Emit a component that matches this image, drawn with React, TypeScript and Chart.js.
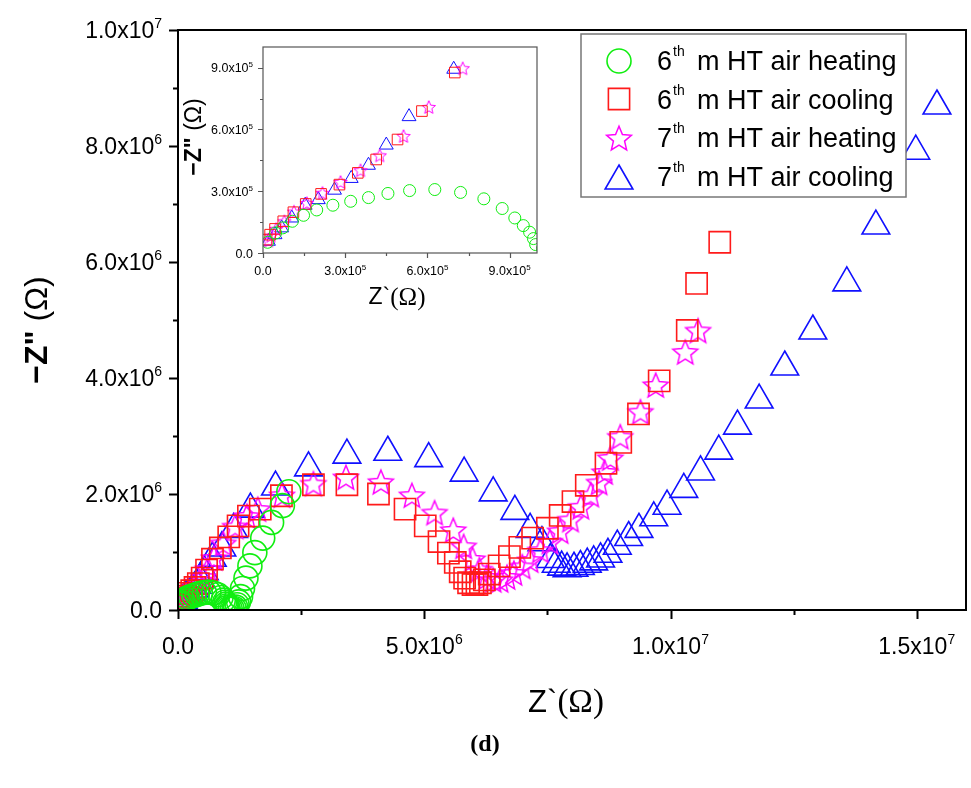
import React, { useEffect, useRef } from 'react';
import { Chart, registerables } from 'chart.js';
Chart.register(...registerables);

// ---------- data (Z' and -Z'' in ohm) ----------
const seriesNames = ['6th m HT air heating', '6th m HT air cooling', '7th m HT air heating', '7th m HT air cooling'];

const heat6Re = [1.7e4, 4.6e4, 7.2e4, 1.07e5, 1.48e5, 1.96e5, 2.55e5, 3.2e5, 3.85e5, 4.56e5, 5.35e5, 6.27e5, 7.21e5, 8.06e5, 8.73e5, 9.19e5, 9.5e5, 9.73e5, 9.87e5, 9.95e5, 1.02e6, 1.06e6, 1.1e6, 1.14e6, 1.17e6, 1.2e6, 1.23e6, 1.27e6, 1.31e6, 1.38e6, 1.46e6, 1.56e6, 1.72e6, 1.9e6, 2.12e6, 2.25e6];
const heat6Im = [5.2e4, 9.7e4, 1.22e5, 1.54e5, 1.83e5, 2.09e5, 2.32e5, 2.51e5, 2.69e5, 2.89e5, 3.03e5, 3.08e5, 2.94e5, 2.63e5, 2.16e5, 1.7e5, 1.33e5, 1.01e5, 7.0e4, 4.1e4, 2.2e4, 1.5e4, 1.5e4, 2.5e4, 5e4, 9e4, 1.4e5, 2.3e5, 3.7e5, 5.5e5, 7.6e5, 9.9e5, 1.24e6, 1.51e6, 1.8e6, 2.04e6];

const cool6Re = [1.3e4, 2.6e4, 4.4e4, 7.4e4, 1.11e5, 1.56e5, 2.12e5, 2.79e5, 3.46e5, 4.13e5, 4.91e5, 5.8e5, 7.0e5, 8.6e5, 1.03e6, 1.22e6, 1.43e6, 1.67e6, 2.1e6, 2.75e6, 3.43e6, 4.07e6, 4.61e6, 5.02e6, 5.3e6, 5.49e6, 5.63e6, 5.73e6, 5.82e6, 5.9e6, 5.99e6, 6.07e6, 6.14e6, 6.22e6, 6.32e6, 6.52e6, 6.73e6, 6.94e6, 7.2e6, 7.5e6, 7.76e6, 8.02e6, 8.29e6, 8.69e6, 8.99e6, 9.35e6, 9.77e6, 1.034e7, 1.053e7, 1.1e7];
const cool6Im = [6.5e4, 8.9e4, 1.17e5, 1.54e5, 1.98e5, 2.38e5, 2.87e5, 3.32e5, 3.89e5, 4.54e5, 5.51e5, 6.89e5, 8.76e5, 1.07e6, 1.26e6, 1.45e6, 1.62e6, 1.74e6, 1.97e6, 2.16e6, 2.16e6, 2.0e6, 1.74e6, 1.45e6, 1.18e6, 9.8e5, 8.2e5, 6.6e5, 5.5e5, 4.7e5, 4.4e5, 4.4e5, 4.7e5, 5.2e5, 6.2e5, 7.6e5, 9.2e5, 1.08e6, 1.24e6, 1.41e6, 1.63e6, 1.87e6, 2.15e6, 2.53e6, 2.89e6, 3.38e6, 3.95e6, 4.82e6, 5.63e6, 6.34e6];

const heat7Re = [2.0e4, 2.9e4, 4.8e4, 7.8e4, 1.13e5, 1.6e5, 2.17e5, 2.83e5, 3.56e5, 4.26e5, 5.13e5, 6.05e5, 7.29e5, 9.2e5, 1.16e6, 1.4e6, 1.62e6, 2.11e6, 2.75e6, 3.41e6, 4.12e6, 4.75e6, 5.21e6, 5.59e6, 5.8e6, 5.98e6, 6.12e6, 6.27e6, 6.4e6, 6.54e6, 6.68e6, 6.82e6, 6.99e6, 7.15e6, 7.36e6, 7.55e6, 7.76e6, 7.97e6, 8.18e6, 8.38e6, 8.55e6, 8.66e6, 8.78e6, 8.98e6, 9.39e6, 9.7e6, 1.03e7, 1.056e7];
const heat7Im = [6.0e4, 8.4e4, 1.17e5, 1.54e5, 2.01e5, 2.43e5, 2.92e5, 3.45e5, 4.02e5, 4.74e5, 5.68e5, 7.09e5, 8.97e5, 1.15e6, 1.44e6, 1.62e6, 1.74e6, 1.98e6, 2.18e6, 2.29e6, 2.21e6, 1.98e6, 1.68e6, 1.38e6, 1.1e6, 8.8e5, 7.0e5, 5.7e5, 5.2e5, 5.2e5, 5.7e5, 6.4e5, 7.5e5, 8.6e5, 1.03e6, 1.18e6, 1.36e6, 1.56e6, 1.78e6, 1.99e6, 2.2e6, 2.38e6, 2.62e6, 2.99e6, 3.42e6, 3.88e6, 4.45e6, 4.82e6];

const cool7Re = [2.0e4, 4.4e4, 6.8e4, 1.05e5, 1.54e5, 2.02e5, 2.61e5, 3.22e5, 3.85e5, 4.5e5, 5.33e5, 6.96e5, 8.9e5, 1.13e6, 1.47e6, 1.98e6, 2.65e6, 3.43e6, 4.26e6, 5.09e6, 5.81e6, 6.4e6, 6.84e6, 7.15e6, 7.39e6, 7.56e6, 7.68e6, 7.79e6, 7.9e6, 8.04e6, 8.17e6, 8.31e6, 8.44e6, 8.58e6, 8.73e6, 8.92e6, 9.15e6, 9.36e6, 9.66e6, 9.93e6, 1.027e7, 1.061e7, 1.098e7, 1.136e7, 1.18e7, 1.232e7, 1.289e7, 1.358e7, 1.417e7, 1.498e7, 1.541e7];
const cool7Im = [5.7e4, 8.9e4, 1.22e5, 1.7e5, 2.32e5, 2.59e5, 3.05e5, 3.62e5, 4.26e5, 5.24e5, 6.62e5, 8.92e5, 1.07e6, 1.39e6, 1.74e6, 2.12e6, 2.45e6, 2.67e6, 2.72e6, 2.61e6, 2.36e6, 2.02e6, 1.7e6, 1.39e6, 1.16e6, 8.7e5, 7.9e5, 7.4e5, 7.1e5, 7.2e5, 7.5e5, 7.9e5, 8.3e5, 8.8e5, 9.6e5, 1.1e6, 1.25e6, 1.39e6, 1.59e6, 1.79e6, 2.08e6, 2.38e6, 2.74e6, 3.17e6, 3.62e6, 4.19e6, 4.81e6, 5.64e6, 6.62e6, 7.91e6, 8.69e6];

// ---------- axes / ticks ----------
const mainXRange = [0, 1.6e7];
const mainYRange = [0, 1.0e7];
const mainXTicks = [0, 5e6, 1e7, 1.5e7];
const mainYTicks = [0, 2e6, 4e6, 6e6, 8e6, 1e7];
const insetXRange = [0, 1.0e6];
const insetYRange = [0, 1.0e6];
const insetXTicks = [0, 3e5, 6e5, 9e5];
const insetYTicks = [0, 3e5, 6e5, 9e5];

const GREEN = '#11ee11';
const RED = '#ff1a1a';
const MAGENTA = '#ff00ff';
const BLUE = '#1010ff';
const SANS = '"Liberation Sans", Arial, Helvetica, sans-serif';
const SERIF = '"Liberation Serif", "Times New Roman", serif';

function sciParts(v: number): [string, string] {
  if (Math.abs(v) < 1e-9) return ['0.0', ''];
  const e = Math.floor(Math.log10(Math.abs(v)) + 1e-9);
  const m = v / Math.pow(10, e);
  return [m.toFixed(1) + 'x10', String(e)];
}

function pts(xs: number[], ys: number[]) {
  return xs.map((x, i) => ({ x, y: ys[i] }));
}

function makeStar(diam: number, lw: number, color: string): HTMLCanvasElement {
  const pad = Math.ceil(lw) + 1;
  const size = Math.ceil(diam + pad * 2);
  const c = document.createElement('canvas');
  c.width = size;
  c.height = size;
  const ctx = c.getContext('2d')!;
  const R = diam / 2;
  const r = R * 0.45;
  const cx = size / 2;
  const cy = size / 2 + R * 0.1;
  ctx.beginPath();
  for (let i = 0; i < 10; i++) {
    const a = -Math.PI / 2 + (i * Math.PI) / 5;
    const rr = i % 2 === 0 ? R : r;
    const x = cx + rr * Math.cos(a);
    const y = cy + rr * Math.sin(a);
    if (i === 0) ctx.moveTo(x, y);
    else ctx.lineTo(x, y);
  }
  ctx.closePath();
  ctx.strokeStyle = color;
  ctx.lineWidth = lw;
  ctx.stroke();
  return c;
}

type Parts = { t: string; f: string }[];
function drawParts(ctx: CanvasRenderingContext2D, parts: Parts, cx: number, cy: number, rot = 0) {
  ctx.save();
  ctx.translate(cx, cy);
  ctx.rotate(rot);
  let total = 0;
  for (const p of parts) {
    ctx.font = p.f;
    total += ctx.measureText(p.t).width;
  }
  let x = -total / 2;
  ctx.textBaseline = 'middle';
  ctx.textAlign = 'left';
  ctx.fillStyle = '#000';
  for (const p of parts) {
    ctx.font = p.f;
    ctx.fillText(p.t, x, 0);
    x += ctx.measureText(p.t).width;
  }
  ctx.restore();
}

type FrameOpts = {
  id: string; color: string; lw: number; minorX: number; minorY: number; majorX: number; majorY: number;
  majorLen: number; minorLen: number;
  fontSize: number; supSize: number; supRaise: number;
  xBase: number; yRight: number; yBase: number;
};

function drawSci(ctx: CanvasRenderingContext2D, v: number, o: FrameOpts, anchorX: number, baseY: number, align: 'center' | 'right') {
  const [m, e] = sciParts(v);
  ctx.font = `${o.fontSize}px ${SANS}`;
  const wm = ctx.measureText(m).width;
  ctx.font = `${o.supSize}px ${SANS}`;
  const we = e ? ctx.measureText(e).width : 0;
  const total = wm + we;
  const x0 = align === 'center' ? anchorX - total / 2 : anchorX - total;
  ctx.textAlign = 'left';
  ctx.textBaseline = 'alphabetic';
  ctx.fillStyle = '#000';
  ctx.font = `${o.fontSize}px ${SANS}`;
  ctx.fillText(m, x0, baseY);
  if (e) {
    ctx.font = `${o.supSize}px ${SANS}`;
    ctx.fillText(e, x0 + wm, baseY - o.supRaise);
  }
}

function framePlugin(o: FrameOpts) {
  return {
    id: 'frame' + o.id,
    beforeDraw(chart: any) {
      const { ctx, chartArea: a } = chart;
      ctx.save();
      ctx.fillStyle = '#fff';
      if (o.id === 'main') ctx.fillRect(0, 0, chart.width, chart.height);
      else ctx.fillRect(a.left, a.top, a.right - a.left, a.bottom - a.top);
      ctx.restore();
    },
    afterDatasetsDraw(chart: any) {
      const { ctx, chartArea: a, scales } = chart;
      const xs = scales.x;
      const ys = scales.y;
      ctx.save();
      ctx.strokeStyle = o.color;
      ctx.lineWidth = o.lw;
      ctx.beginPath();
      const nx = Math.round((xs.max - xs.min) / o.minorX);
      for (let i = 0; i <= nx; i++) {
        const v = xs.min + i * o.minorX;
        if (v > xs.max + 1e-6) break;
        const px = Math.round(xs.getPixelForValue(v)) + 0.5;
        const major = Math.abs(v / o.majorX - Math.round(v / o.majorX)) < 1e-6;
        ctx.moveTo(px, a.bottom);
        ctx.lineTo(px, a.bottom + (major ? o.majorLen : o.minorLen));
      }
      const ny = Math.round((ys.max - ys.min) / o.minorY);
      for (let i = 0; i <= ny; i++) {
        const v = ys.min + i * o.minorY;
        if (v > ys.max + 1e-6) break;
        const py = Math.round(ys.getPixelForValue(v)) + 0.5;
        const major = Math.abs(v / o.majorY - Math.round(v / o.majorY)) < 1e-6;
        ctx.moveTo(a.left, py);
        ctx.lineTo(a.left - (major ? o.majorLen : o.minorLen), py);
      }
      ctx.stroke();
      ctx.strokeRect(a.left, a.top, a.right - a.left, a.bottom - a.top);
      for (const t of xs.ticks) {
        drawSci(ctx, t.value, o, xs.getPixelForValue(t.value), a.bottom + o.xBase, 'center');
      }
      for (const t of ys.ticks) {
        drawSci(ctx, t.value, o, a.left - o.yRight, ys.getPixelForValue(t.value) + o.yBase, 'right');
      }
      ctx.restore();
    },
  };
}

function drawSymbol(ctx: CanvasRenderingContext2D, kind: string, x: number, y: number, r: number, color: string, lw: number, star?: HTMLCanvasElement) {
  ctx.save();
  ctx.strokeStyle = color;
  ctx.lineWidth = lw;
  ctx.beginPath();
  if (kind === 'circle') {
    ctx.arc(x, y, r, 0, Math.PI * 2);
    ctx.stroke();
  } else if (kind === 'rect') {
    const s = r * Math.SQRT1_2;
    ctx.rect(x - s, y - s, 2 * s, 2 * s);
    ctx.stroke();
  } else if (kind === 'triangle') {
    ctx.moveTo(x, y - r);
    ctx.lineTo(x + r * 0.866, y + r * 0.5);
    ctx.lineTo(x - r * 0.866, y + r * 0.5);
    ctx.closePath();
    ctx.stroke();
  } else if (star) {
    ctx.drawImage(star, x - star.width / 2, y - star.height / 2);
  }
  ctx.restore();
}

export default function App() {
  const mainRef = useRef<HTMLCanvasElement>(null);
  const insetRef = useRef<HTMLCanvasElement>(null);

  useEffect(() => {
    const starBig = makeStar(26, 1.5, MAGENTA);
    const starSmall = makeStar(14, 1, MAGENTA);

    const mkSets = (big: boolean) => {
      const lw = big ? 1.6 : 1;
      const common = { showLine: false, clip: 0, pointBackgroundColor: 'rgba(0,0,0,0)', pointBorderWidth: lw, borderWidth: lw, backgroundColor: 'rgba(0,0,0,0)' };
      return [
        { ...common, label: seriesNames[0], data: pts(heat6Re, heat6Im), pointStyle: 'circle', pointRadius: big ? 12 : 6, pointBorderColor: GREEN, borderColor: GREEN },
        { ...common, label: seriesNames[1], data: pts(cool6Re, cool6Im), pointStyle: 'rect', pointRadius: big ? 15 : 7.5, pointBorderColor: RED, borderColor: RED },
        { ...common, label: seriesNames[2], data: pts(heat7Re, heat7Im), pointStyle: big ? starBig : starSmall, pointRadius: big ? 13 : 7, pointBorderColor: MAGENTA, borderColor: MAGENTA },
        { ...common, label: seriesNames[3], data: pts(cool7Re, cool7Im), pointStyle: 'triangle', pointRadius: big ? 16 : 8, pointBorderColor: BLUE, borderColor: BLUE },
      ];
    };

    const mainDecor = {
      id: 'mainDecor',
      afterDraw(chart: any) {
        const ctx: CanvasRenderingContext2D = chart.ctx;
        ctx.save();
        ctx.fillStyle = '#fff';
        ctx.fillRect(581, 34, 325, 163);
        ctx.strokeStyle = '#777';
        ctx.lineWidth = 1.5;
        ctx.strokeRect(581, 34, 325, 163);
        ctx.restore();
        const rows = [
          { kind: 'circle', r: 12, color: GREEN, sy: 61, n: '6', rest: 'm HT air heating' },
          { kind: 'rect', r: 15, color: RED, sy: 99, n: '6', rest: 'm HT air cooling' },
          { kind: 'star', r: 0, color: MAGENTA, sy: 138, n: '7', rest: 'm HT air heating' },
          { kind: 'triangle', r: 16, color: BLUE, sy: 181, n: '7', rest: 'm HT air cooling' },
        ];
        const baselines = [70, 109, 147, 186];
        rows.forEach((row, i) => {
          drawSymbol(ctx, row.kind, 619, row.sy, row.r, row.color, 1.6, starBig);
          ctx.save();
          ctx.fillStyle = '#000';
          ctx.textBaseline = 'alphabetic';
          ctx.textAlign = 'left';
          ctx.font = `27px ${SANS}`;
          ctx.fillText(row.n, 657, baselines[i]);
          ctx.font = `14px ${SANS}`;
          ctx.fillText('th', 673, baselines[i] - 14);
          ctx.font = `27px ${SANS}`;
          ctx.fillText(row.rest, 697, baselines[i]);
          ctx.restore();
        });
        drawParts(ctx, [{ t: '−Z"', f: `bold 32px ${SANS}` }, { t: ' (Ω)', f: `32px ${SANS}` }], 38, 330, -Math.PI / 2);
        drawParts(ctx, [{ t: 'Z`', f: `31px ${SANS}` }, { t: '(Ω)', f: `33px ${SERIF}` }], 566, 703);
        drawParts(ctx, [{ t: '(d)', f: `bold 24px ${SERIF}` }], 485, 745);
      },
    };

    const insetDecor = {
      id: 'insetDecor',
      afterDraw(chart: any) {
        const ctx: CanvasRenderingContext2D = chart.ctx;
        drawParts(ctx, [{ t: '−Z"', f: `bold 23px ${SANS}` }, { t: ' (Ω)', f: `23px ${SANS}` }], 13, 101, -Math.PI / 2);
        drawParts(ctx, [{ t: 'Z`', f: `23px ${SANS}` }, { t: '(Ω)', f: `25px ${SERIF}` }], 215, 262);
      },
    };

    const fixedTicks = (vals: number[]) => (scale: any) => {
      scale.ticks = vals.map((v) => ({ value: v }));
    };
    const noPad = (s: any) => {
      s.paddingLeft = 0; s.paddingRight = 0; s.paddingTop = 0; s.paddingBottom = 0;
    };

    const main = new Chart(mainRef.current!, {
      type: 'scatter',
      data: { datasets: mkSets(true) as any },
      options: {
        responsive: false,
        animation: false,
        events: [],
        layout: { autoPadding: false, padding: { left: 0, right: 5, top: 30, bottom: 0 } },
        plugins: { legend: { display: false }, tooltip: { enabled: false } },
        scales: {
          x: {
            type: 'linear',
            min: mainXRange[0],
            max: mainXRange[1],
            afterBuildTicks: fixedTicks(mainXTicks),
            afterFit: (s: any) => { s.height = 178; noPad(s); },
            grid: { display: false, drawTicks: false },
            border: { display: false },
            ticks: { display: false },
          },
          y: {
            type: 'linear',
            min: mainYRange[0],
            max: mainYRange[1],
            afterBuildTicks: fixedTicks(mainYTicks),
            afterFit: (s: any) => { s.width = 178; noPad(s); },
            grid: { display: false, drawTicks: false },
            border: { display: false },
            ticks: { display: false },
          },
        },
      },
      plugins: [framePlugin({ id: 'main', color: '#000', lw: 2, minorX: 2.5e6, minorY: 1e6, majorX: 5e6, majorY: 2e6, majorLen: 9, minorLen: 5, fontSize: 23, supSize: 14, supRaise: 10, xBase: 44, yRight: 16, yBase: 8 }), mainDecor],
    });

    const inset = new Chart(insetRef.current!, {
      type: 'scatter',
      data: { datasets: mkSets(false) as any },
      options: {
        responsive: false,
        animation: false,
        events: [],
        layout: { autoPadding: false, padding: { left: 0, right: 15, top: 11, bottom: 0 } },
        plugins: { legend: { display: false }, tooltip: { enabled: false } },
        scales: {
          x: {
            type: 'linear',
            min: insetXRange[0],
            max: insetXRange[1],
            afterBuildTicks: fixedTicks(insetXTicks),
            afterFit: (s: any) => { s.height = 63; noPad(s); },
            grid: { display: false, drawTicks: false },
            border: { display: false },
            ticks: { display: false },
          },
          y: {
            type: 'linear',
            min: insetYRange[0],
            max: insetYRange[1],
            afterBuildTicks: fixedTicks(insetYTicks),
            afterFit: (s: any) => { s.width = 81; noPad(s); },
            grid: { display: false, drawTicks: false },
            border: { display: false },
            ticks: { display: false },
          },
        },
      },
      plugins: [framePlugin({ id: 'inset', color: '#555', lw: 1.2, minorX: 1.5e5, minorY: 1.5e5, majorX: 3e5, majorY: 3e5, majorLen: 5, minorLen: 3, fontSize: 12.5, supSize: 8, supRaise: 5, xBase: 22, yRight: 10, yBase: 4.5 }), insetDecor],
    });

    return () => {
      main.destroy();
      inset.destroy();
    };
  }, []);

  return (
    <div style={{ position: 'absolute', left: 0, top: 0, width: 971, height: 788, background: '#fff', overflow: 'hidden' }}>
      <canvas ref={mainRef} width={971} height={788} style={{ position: 'absolute', left: 0, top: 0 }} />
      <canvas ref={insetRef} width={370} height={280} style={{ position: 'absolute', left: 182, top: 36 }} />
    </div>
  );
}
